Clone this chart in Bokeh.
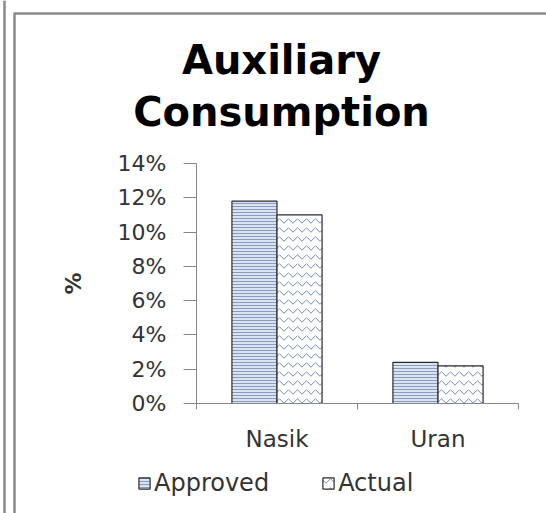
import numpy as np
from bokeh.plotting import figure
from bokeh.models import (Range1d, FixedTicker, NumeralTickFormatter, Legend,
                          LegendItem, Label)
from bokeh.embed import file_html
from bokeh.resources import INLINE

# Auxiliary consumption by station, as a share of generation
sites = ["Nasik", "Uran"]
approved = [0.118, 0.024]
actual = [0.110, 0.022]
y_ticks = [0.0, 0.02, 0.04, 0.06, 0.08, 0.10, 0.12, 0.14]
y_max = 0.14

FONT = "DejaVu Sans"
W, H = 546, 513

# pixel layout of the plotting area inside the page
AX_LEFT, AX_RIGHT, AX_TOP, AX_BOTTOM = 196, 518, 163, 403
px_per_x = (AX_RIGHT - AX_LEFT) / len(sites)
px_per_y = (AX_BOTTOM - AX_TOP) / y_max


def dx(px):
    return (px - AX_LEFT) / px_per_x


def dy(py):
    return (AX_BOTTOM - py) / px_per_y


centers = np.arange(len(sites)) + 0.5
bar_w = 0.28

p = figure(width=W, height=H, output_backend="svg", toolbar_location=None,
           x_range=Range1d(dx(0), dx(W)), y_range=Range1d(dy(H), dy(0)),
           min_border=0, background_fill_color="white",
           border_fill_color="white")
p.outline_line_color = None
p.grid.visible = False

r_app = p.vbar(x=centers - bar_w / 2, top=approved, width=bar_w, bottom=0,
               fill_color="#dae3f1", line_color="#2b2b2b", line_width=1.2,
               hatch_pattern="horizontal_line", hatch_color="#8a9cbf",
               hatch_scale=3, hatch_weight=1)
r_act = p.vbar(x=centers + bar_w / 2, top=actual, width=bar_w, bottom=0,
               fill_color="white", line_color="#2b2b2b", line_width=1.2,
               hatch_pattern="horizontal_wave", hatch_color="#7288b5",
               hatch_scale=9, hatch_weight=1)

# y axis, pinned at x = 0
ya = p.yaxis[0]
ya.fixed_location = 0
ya.bounds = (0, y_max)
ya.ticker = FixedTicker(ticks=y_ticks, minor_ticks=[])
ya.formatter = NumeralTickFormatter(format="0%")
ya.axis_line_color = "#868686"
ya.major_tick_line_color = "#868686"
ya.major_tick_out = 13
ya.major_tick_in = 0
ya.major_label_standoff = 17
ya.major_label_text_font = FONT
ya.major_label_text_font_size = "22px"
ya.major_label_text_color = "#333333"
ya.axis_label = "%"
ya.axis_label_text_font = FONT
ya.axis_label_text_font_size = "22px"
ya.axis_label_text_font_style = "bold"
ya.axis_label_text_color = "#333333"
ya.axis_label_standoff = 29

# x axis, pinned at y = 0: labels under each station, ticks between them
xa = p.xaxis[0]
xa.fixed_location = 0
xa.bounds = (0, len(sites))
xa.ticker = FixedTicker(ticks=list(centers),
                        minor_ticks=list(np.arange(len(sites) + 1)))
xa.major_label_overrides = {float(c): s for c, s in zip(centers, sites)}
xa.axis_line_color = "#868686"
xa.major_tick_out = 0
xa.major_tick_in = 0
xa.minor_tick_line_color = "#868686"
xa.minor_tick_out = 6
xa.minor_tick_in = 0
xa.major_label_standoff = 16
xa.major_label_text_font = FONT
xa.major_label_text_font_size = "23px"
xa.major_label_text_color = "#333333"

# two-line title
for line, base in [("Auxiliary", 59), ("Consumption", 111)]:
    p.add_layout(Label(x=dx(281), y=dy(base), text=line, text_align="center",
                       text_baseline="alphabetic", text_font=FONT,
                       text_font_size="40px", text_font_style="bold",
                       text_color="black"))

legend = Legend(items=[LegendItem(label="Approved", renderers=[r_app]),
                       LegendItem(label="Actual", renderers=[r_act])],
                orientation="horizontal", location=(137, 16),
                glyph_width=14, glyph_height=14, label_standoff=3,
                spacing=52, padding=0, margin=0, border_line_color=None,
                background_fill_alpha=0,
                label_text_font=FONT, label_text_font_size="24px",
                label_text_color="#333333")
p.add_layout(legend, "center")

# page frame: double rule at left, rule across the top
p.segment(x0=[dx(4), dx(14), dx(14)], y0=[dy(0), dy(12), dy(13)],
          x1=[dx(4), dx(14), dx(W)], y1=[dy(H), dy(H), dy(13)],
          line_color="#8a8a8a", line_width=2.5)

open("out.html", "w").write(file_html(p, INLINE))
